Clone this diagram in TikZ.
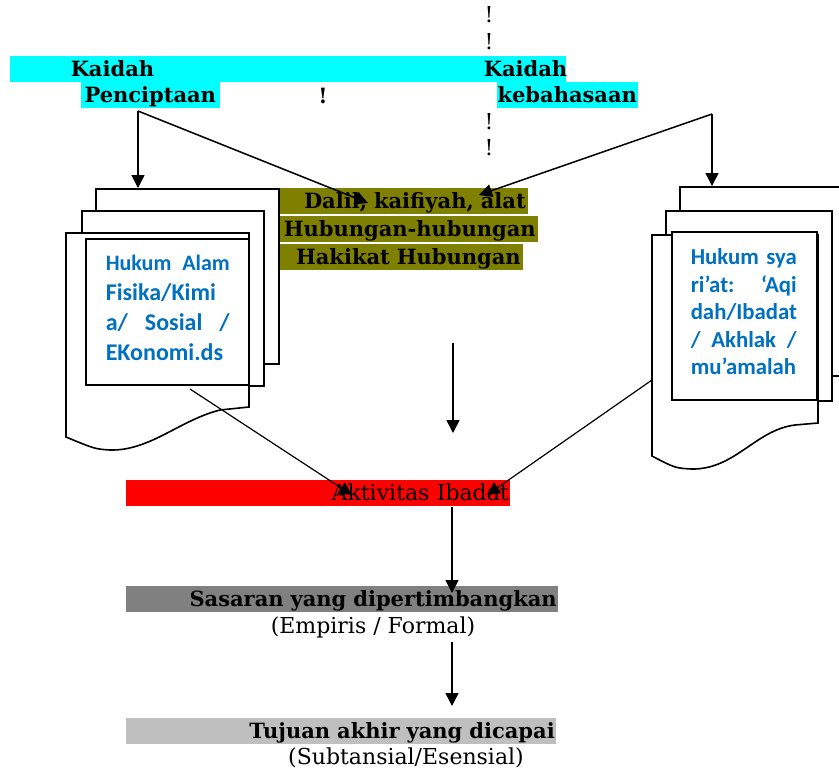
\documentclass[tikz,border=0pt]{standalone}
\usepackage{fontspec}
\setmainfont{DejaVu Serif}
\newfontfamily\calibri{Carlito}
\usepackage{xcolor}
\usepackage{tikz}
\usetikzlibrary{arrows.meta}
\definecolor{kaidahcyan}{HTML}{00FFFF}
\definecolor{hukumblue}{HTML}{0070C0}
\definecolor{dalilolive}{HTML}{808000}
\definecolor{sasarangray}{HTML}{808080}
\definecolor{tujuangray}{HTML}{BFBFBF}

\begin{document}
\begin{tikzpicture}[x=1pt,y=-1pt,line width=1.5pt,>={Triangle[length=13pt,width=13pt]},
  bar/.style={inner sep=0pt,minimum height=26.5pt,text height=18pt,text depth=3pt,font=\fontsize{21}{24}\selectfont\bfseries},
  sheet/.style={draw,fill=white,line width=1.6pt},
  hukum/.style={inner sep=0pt,anchor=north west,align=left,text=hukumblue},
  note/.style={inner sep=0pt,font=\fontsize{22}{26}\selectfont}]
  \clip (0,0) rectangle (839,772);

  \node[bar,fill=kaidahcyan,anchor=north west,minimum width=556pt] (kaidahrow) at (9,55) {};
  \node[bar,anchor=base west] (kaidahL) at (70,76) {Kaidah};
  \node[bar,anchor=base west] (kaidahR) at (483,76) {Kaidah};
  \node[bar,fill=kaidahcyan,anchor=north west,minimum width=139pt] (penc) at (80,81) {Penciptaan};
  \node[bar,fill=kaidahcyan,anchor=north west,minimum width=141pt] (kebah) at (496,81) {kebahasaan};
  \node[note,font=\fontsize{21}{24}\selectfont\bfseries] (bangmid) at (323,96) {!};
  \foreach \y/\n in {15/bang1,42/bang2,122/bang3,148/bang4}
    \node[note] (\n) at (489,\y) {!};

  \node[bar,fill=dalilolive,anchor=north west,inner xsep=2pt,text width=245pt,align=right] (dalil) at (278,187) {Dalil, kaifiyah, alat};
  \node[bar,fill=dalilolive,anchor=north west,inner xsep=2pt,text width=255pt,align=right] (hub) at (dalil.south west) {Hubungan-hubungan};
  \node[bar,fill=dalilolive,anchor=north west,inner xsep=2pt,text width=240pt,align=right] (hakikat) at (hub.south west) {Hakikat Hubungan};

  \node[sheet,anchor=north west,minimum width=183pt,minimum height=175pt] (lback) at (95,188) {};
  \node[sheet,anchor=north west,minimum width=182pt,minimum height=175pt] (lmid) at (81,210) {};
  \draw[sheet] (66,233) -- (249,233) -- (249,407) -- (220,410)
    .. controls (180,420) and (150,451) .. (110,450) .. controls (95,449) .. (66,437) -- cycle;
  \node[sheet,anchor=north west,minimum width=163pt,minimum height=146pt] (lbox) at (85,238) {};
  \node[hukum,text width=124pt,font=\calibri\bfseries\fontsize{24}{30}\selectfont] (ltext) at (105,254)
    {{\fontsize{22}{30}\selectfont Hukum\hfill Alam}\\ Fisika/Kimi\\ a/\hfill Sosial\hfill /\\ EKonomi.ds};

  \node[sheet,anchor=north west,minimum width=200pt,minimum height=189pt] (rback) at (679,186) {};
  \node[sheet,anchor=north west,minimum width=166pt,minimum height=190pt] (rmid) at (665,210) {};
  \draw[sheet] (652,235) -- (818,235) -- (818,423) -- (795,425)
    .. controls (755,430) and (735,470) .. (691,469) .. controls (675,468) .. (652,456) -- cycle;
  \node[sheet,anchor=north west,minimum width=145pt,minimum height=168pt] (rbox) at (671,231) {};
  \node[hukum,text width=106pt,font=\calibri\bfseries\fontsize{22.8}{27.5}\selectfont] (rtext) at (690,248)
    {Hukum\hfill sya\\ ri’at:\hfill ‘Aqi\\ dah/Ibadat\\ /\hfill Akhlak\hfill /\\ mu’amalah};

  \node[bar,fill=red,anchor=north west,inner xsep=1pt,text width=382pt,align=right,font=\fontsize{22}{26}\selectfont] (aktiv) at (125,479) {Aktivitas Ibadat};
  \node[bar,fill=sasarangray,anchor=north west,inner xsep=1pt,text width=430pt,align=right] (sasaran) at (125,585) {Sasaran yang dipertimbangkan};
  \node[note] (empiris) at (373,627) {(Empiris / Formal)};
  \node[bar,fill=tujuangray,anchor=north west,inner xsep=1pt,text width=428pt,align=right] (tujuan) at (125,717) {Tujuan akhir yang dicapai};
  \node[note] (subst) at (406,758) {(Subtansial/Esensial)};

  \coordinate (pfork) at (138,111);
  \coordinate (kfork) at (712,114);
  \coordinate (dalilL) at (368,203);
  \coordinate (dalilR) at (479,195);
  \coordinate (midtop) at (453,343);
  \coordinate (midend) at (453,433);
  \coordinate (lout) at (190,389);
  \coordinate (rout) at (652,380);
  \coordinate (aktivL) at (352,495);
  \coordinate (aktivR) at (487,495);
  \coordinate (stem) at (452,0);

  \draw[->] (pfork) -- (pfork |- lback.north);
  \draw[->] (pfork) -- (dalilL);
  \draw[->] (kfork) -- (kfork |- rback.north);
  \draw[->] (kfork) -- (dalilR);
  \draw[->] (midtop) -- (midend);
  \draw[->,line width=1.2pt] (lout) -- (aktivL);
  \draw[->,line width=1.2pt] (rout) -- (aktivR);
  \draw[->] (aktiv.south -| stem) -- ([yshift=-8pt]sasaran.north -| stem);
  \draw[->] ([yshift=-4pt]empiris.south -| stem) -- ([yshift=11pt]tujuan.north -| stem);
\end{tikzpicture}
\end{document}
